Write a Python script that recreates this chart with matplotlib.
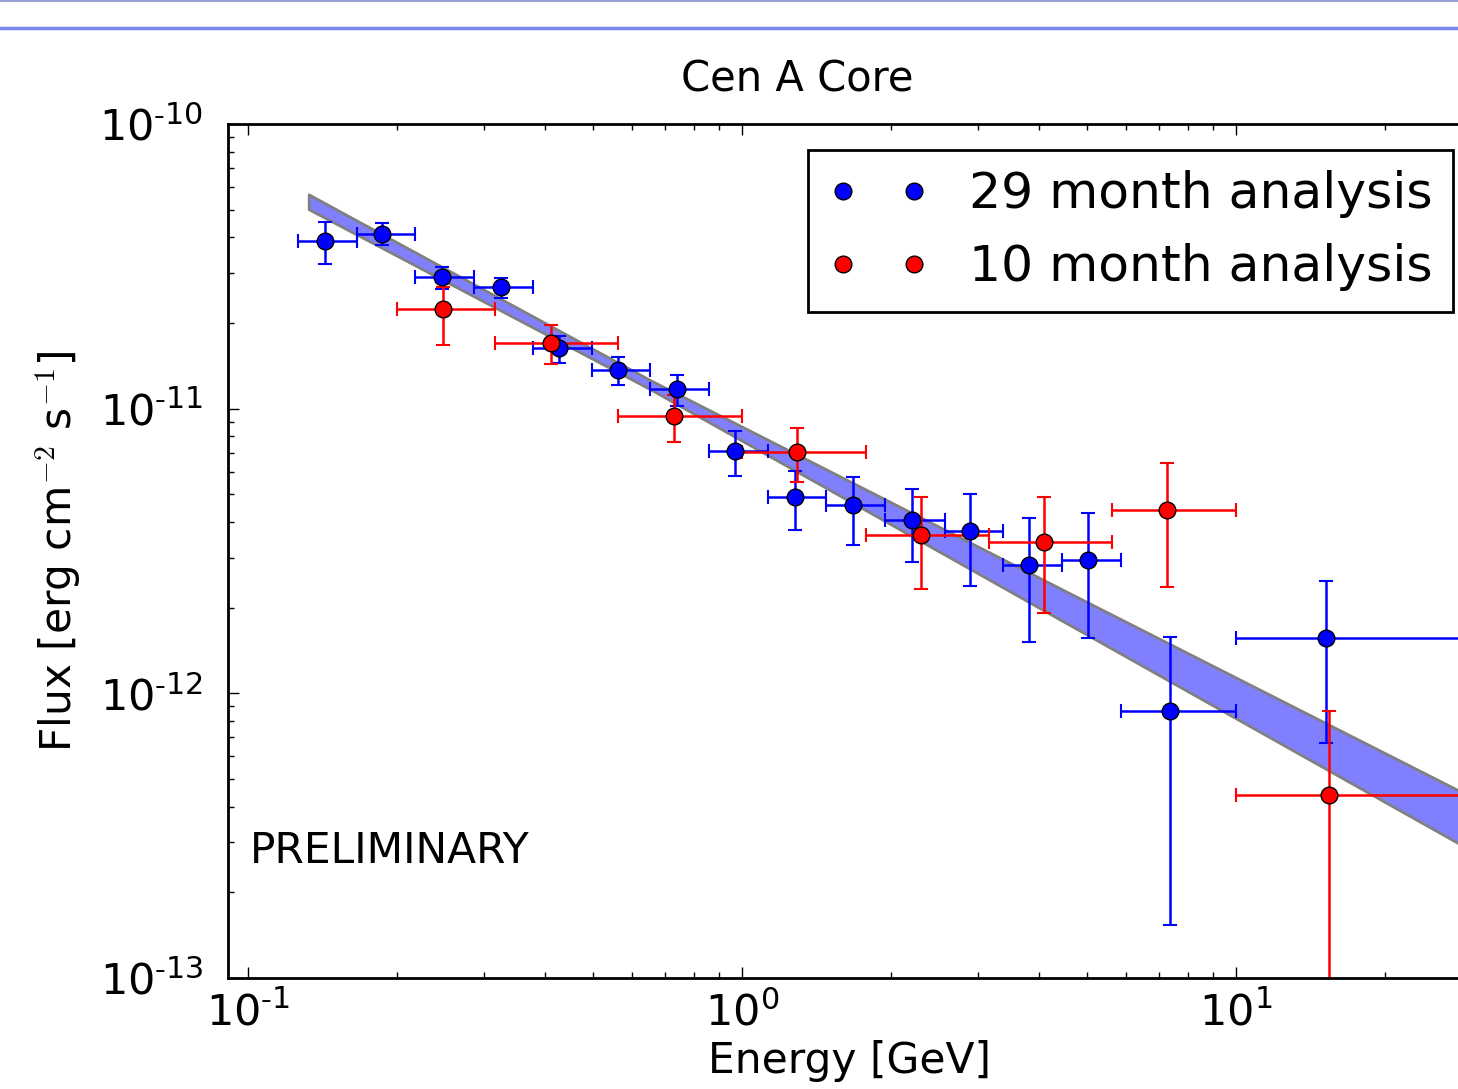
import matplotlib
matplotlib.use('Agg')  # noqa
import matplotlib.pyplot as plt
from matplotlib.lines import Line2D
from matplotlib.ticker import FuncFormatter
import numpy as np

# 29 month analysis (blue)
blue_e = [0.143, 0.187, 0.247, 0.325, 0.426, 0.562, 0.739, 0.968,
          1.28, 1.68, 2.21, 2.90, 3.81, 5.02, 7.36, 15.2]
blue_elo = [0.126, 0.166, 0.218, 0.287, 0.377, 0.496, 0.652, 0.858,
            1.13, 1.48, 1.95, 2.57, 3.38, 4.44, 5.84, 10.0]
blue_ehi = [0.166, 0.218, 0.287, 0.377, 0.496, 0.652, 0.858, 1.13,
            1.48, 1.95, 2.57, 3.38, 4.44, 5.84, 10.0, 100.0]
blue_f = [3.89e-11, 4.11e-11, 2.89e-11, 2.67e-11, 1.63e-11, 1.37e-11,
          1.17e-11, 7.10e-12, 4.91e-12, 4.59e-12, 4.07e-12, 3.72e-12,
          2.82e-12, 2.94e-12, 8.70e-13, 1.57e-12]
blue_fhi = [4.53e-11, 4.48e-11, 3.15e-11, 2.88e-11, 1.80e-11, 1.52e-11,
            1.31e-11, 8.35e-12, 6.06e-12, 5.77e-12, 5.22e-12, 5.02e-12,
            4.12e-12, 4.30e-12, 1.58e-12, 2.48e-12]
blue_flo = [3.23e-11, 3.76e-11, 2.63e-11, 2.45e-11, 1.45e-11, 1.21e-11,
            1.02e-11, 5.81e-12, 3.75e-12, 3.33e-12, 2.89e-12, 2.39e-12,
            1.51e-12, 1.56e-12, 1.53e-13, 6.70e-13]

# 10 month analysis (red)
red_e = [0.248, 0.410, 0.729, 1.29, 2.30, 4.09, 7.26, 15.4]
red_elo = [0.200, 0.316, 0.562, 1.00, 1.78, 3.16, 5.62, 10.0]
red_ehi = [0.316, 0.562, 1.00, 1.78, 3.16, 5.62, 10.0, 100.0]
red_f = [2.24e-11, 1.70e-11, 9.43e-12, 7.05e-12, 3.61e-12, 3.40e-12,
         4.41e-12, 4.40e-13]
red_fhi = [2.68e-11, 1.96e-11, 1.117e-11, 8.55e-12, 4.90e-12, 4.89e-12,
           6.45e-12, 8.67e-13]
red_flo = [1.67e-11, 1.43e-11, 7.64e-12, 5.54e-12, 2.32e-12, 1.91e-12,
           2.36e-12, 1e-15]

# fit band (butterfly)
band_e = [0.1327, 0.3, 0.65, 1.5, 5.0, 30.0]
band_hi = [5.66e-11, 2.62e-11, 1.263e-11, 6.05e-12, 2.09e-12, 4.32e-13]
band_lo = [5.02e-11, 2.38e-11, 1.174e-11, 5.20e-12, 1.605e-12, 2.80e-13]

plt.rcParams['font.family'] = ['DejaVu Sans']
plt.rcParams['mathtext.fontset'] = 'cm'


def errs(c, lo, hi):
    return [[a - b for a, b in zip(c, lo)], [b - a for a, b in zip(c, hi)]]


def logfmt(v, pos):
    p = int(round(np.log10(v)))
    s = str(p).replace('-', r'\text{-}')
    return r'$\mathdefault{10^{%s}}$' % s


fig = plt.figure(figsize=(14.58, 10.89), dpi=100)
ax = fig.add_axes([228 / 1458, 111 / 1089, (1471.7 - 228) / 1458, 854 / 1089])

ax.fill_between(band_e, band_lo, band_hi, facecolor='#8080ff',
                edgecolor='#808080', linewidth=2, zorder=1)

for e, elo, ehi, f, flo, fhi, col, lab in [
        (blue_e, blue_elo, blue_ehi, blue_f, blue_flo, blue_fhi, '#0000ff',
         '29 month analysis'),
        (red_e, red_elo, red_ehi, red_f, red_flo, red_fhi, '#ff0000',
         '10 month analysis')]:
    ax.errorbar(e, f, xerr=errs(e, elo, ehi), yerr=errs(f, flo, fhi),
                fmt='none', ecolor=col, elinewidth=1.8, capsize=5,
                capthick=1.5, zorder=2)
    ax.plot(e, f, 'o', color=col, markersize=12, markeredgecolor='k',
            markeredgewidth=1, label=lab, zorder=3)

ax.set_xscale('log')
ax.set_yscale('log')
ax.set_xlim(0.0911, 30)
ax.set_ylim(1e-13, 1e-10)
ax.xaxis.set_major_formatter(FuncFormatter(logfmt))
ax.yaxis.set_major_formatter(FuncFormatter(logfmt))

ax.tick_params(which='both', direction='in', top=True, right=True,
               width=1, labelsize=31)
ax.tick_params(which='major', length=8)
ax.tick_params(which='minor', length=4)
ax.tick_params(axis='x', pad=10)
ax.tick_params(axis='y', pad=18)
for s in ax.spines.values():
    s.set_linewidth(2)

fig.text(797 / 1458, 1 - 80 / 1089, 'Cen A Core', fontsize=30,
         ha='center', va='center')
ax.set_xlabel('Energy [GeV]', fontsize=30.5, labelpad=4)
ax.set_ylabel(r'Flux [erg cm$^{-2}$ s$^{-1}$]', fontsize=30.5, labelpad=12)

ax.text(0.101, 2.80e-13, 'PRELIMINARY', fontsize=30.5, va='center')

leg = ax.legend(loc='upper right', numpoints=2, fontsize=36.3,
                handlelength=2, fancybox=False, framealpha=1,
                edgecolor='k', borderaxespad=0,
                bbox_to_anchor=(1453 / 1458, 1 - 150 / 1089),
                bbox_transform=fig.transFigure)
leg.get_frame().set_linewidth(2)

# slide decoration lines at the top
fig.add_artist(Line2D([0, 1], [1 - 1 / 1089, 1 - 1 / 1089],
                      color='#9a9fd6', linewidth=1.5))
fig.add_artist(Line2D([0, 1], [1 - 27.5 / 1089, 1 - 27.5 / 1089],
                      color='#7b86ee', linewidth=2.5))

fig.savefig('out.png', dpi=100)
